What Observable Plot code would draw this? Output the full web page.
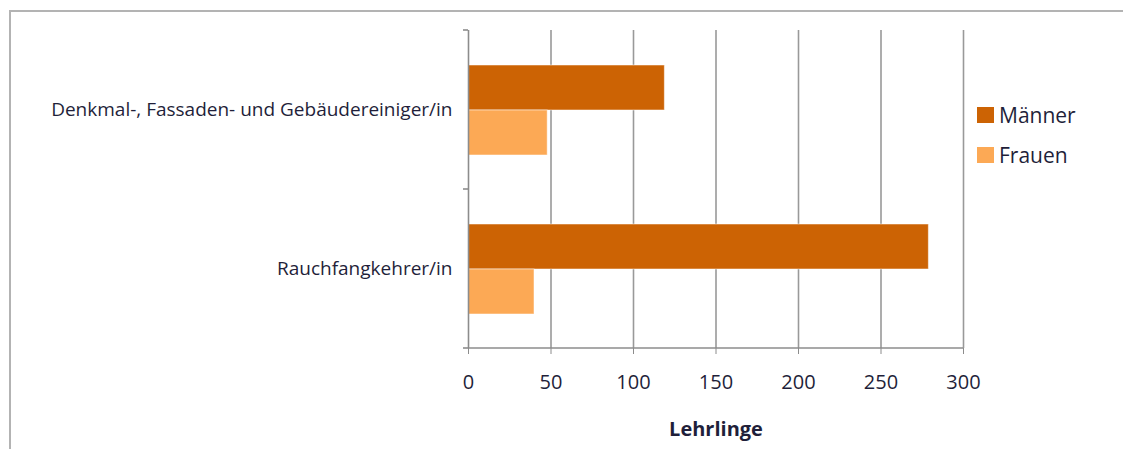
<!DOCTYPE html>
<html>
<head>
<meta charset="utf-8">
<script src="https://cdn.jsdelivr.net/npm/d3@7"></script>
<script src="https://cdn.jsdelivr.net/npm/@observablehq/plot@0.6"></script>
<style>
  html, body { margin: 0; padding: 0; background: #fff; overflow: hidden; }
  #wrap { position: relative; width: 1123px; height: 449px; }
  #frame { position: absolute; left: 9px; top: 10px; width: 1200px; height: 600px;
           border-left: 2px solid #b3b3b3; border-top: 2px solid #b3b3b3; }
  #chart { position: absolute; left: 0; top: 0; }
  #legend { position: absolute; left: 977px; top: 95px; font-family: "Open Sans", sans-serif;
            font-size: 21px; color: #1f1f3a; }
  #legend .item { display: flex; align-items: center; height: 40px; }
  #legend .sw { width: 17px; height: 16px; margin-right: 5px; }
  g[aria-label="x-axis label"] text { font-weight: bold; }
</style>
</head>
<body>
<div id="wrap">
  <div id="frame"></div>
  <div id="chart"></div>
  <div id="legend"></div>
</div>
<script>
const categories = ["Denkmal-, Fassaden- und Gebäudereiniger/in", "Rauchfangkehrer/in"];
const series = ["Männer", "Frauen"];
const maenner = [119, 279];
const frauen = [48, 40];
const xTicks = [0, 50, 100, 150, 200, 250, 300];
const colors = ["#CC6304", "#FCA955"];
const axisLabel = "Lehrlinge";

const data = categories.flatMap((c, i) => [
  {cat: c, s: series[0], v: maenner[i]},
  {cat: c, s: series[1], v: frauen[i]}
]);

const chart = Plot.plot({
  width: 1123,
  height: 449,
  marginLeft: 468,
  marginRight: 160,
  marginTop: 29,
  marginBottom: 101,
  style: {fontFamily: "Open Sans, sans-serif", color: "#1f1f3a", background: "transparent"},
  x: {domain: [0, 300]},
  y: {domain: series, paddingInner: 0, paddingOuter: 0.733, axis: null},
  fy: {domain: categories, padding: 0},
  color: {domain: series, range: colors},
  marks: [
    Plot.ruleX(xTicks.slice(1), {stroke: "#999", strokeWidth: 1.6}),
    Plot.barX(data, {x: "v", y: "s", fy: "cat", fill: "s", stroke: "#fff", strokeOpacity: 0.5, strokeWidth: 1}),
    Plot.ruleX([0], {stroke: "#8c8c8c", strokeWidth: 1.6}),
    Plot.axisX({ticks: xTicks, tickSize: 6, tickPadding: 20, fontSize: 20, stroke: "#8c8c8c",
                label: axisLabel, labelAnchor: "center", labelArrow: "none", labelOffset: 87}),
    Plot.axisFy({anchor: "left", tickSize: 0, tickPadding: 16, fontSize: 19, label: null})
  ]
});
document.getElementById("chart").appendChild(chart);

// axis line and category boundary ticks from the plot's own scales
const fy = chart.scale("fy"), xs = chart.scale("x");
const x0 = xs.apply(0), x1 = xs.apply(300);
const bounds = [...categories.map(c => fy.apply(c)), fy.apply(categories[categories.length - 1]) + fy.bandwidth];
const svg = d3.select(chart);
const g = svg.append("g").attr("stroke", "#8c8c8c").attr("stroke-width", 1.6);
g.selectAll("line.t").data(bounds).join("line")
  .attr("x1", x0 - 5).attr("x2", x0).attr("y1", d => d).attr("y2", d => d);
g.append("line").attr("x1", x0).attr("x2", x1)
  .attr("y1", bounds[bounds.length - 1]).attr("y2", bounds[bounds.length - 1]);

const legend = d3.select("#legend");
series.forEach((s, i) => {
  const it = legend.append("div").attr("class", "item");
  it.append("div").attr("class", "sw").style("background", colors[i]);
  it.append("span").text(s);
});
</script>
</body>
</html>
